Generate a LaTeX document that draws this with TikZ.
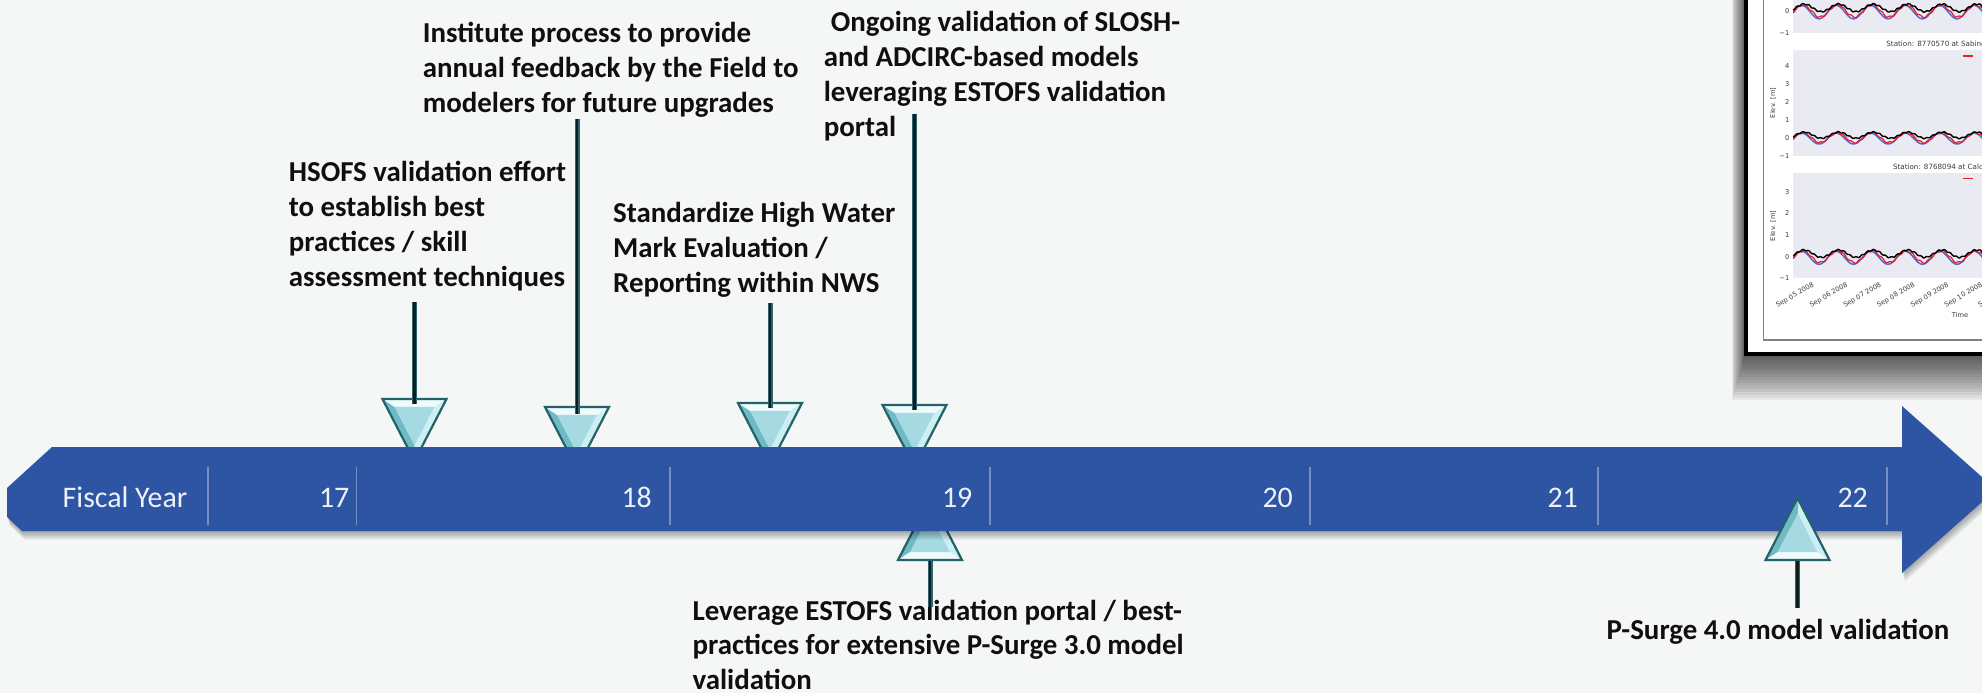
\documentclass[tikz,border=0pt]{standalone}
\usepackage{fontspec}
\setmainfont{Carlito}
\newfontfamily\plotfont{DejaVu Sans}
\usetikzlibrary{calc}
\definecolor{bgc}{RGB}{245,246,246}
\definecolor{bandc}{RGB}{46,84,164}
\definecolor{sepc}{RGB}{118,142,198}
\definecolor{yrc}{RGB}{238,241,248}
\definecolor{txtc}{RGB}{15,15,15}
\definecolor{stemc}{RGB}{12,30,34}
\definecolor{stemedge}{RGB}{45,100,110}
\definecolor{triedge}{RGB}{36,98,106}
\definecolor{triL}{RGB}{112,186,197}
\definecolor{triR}{RGB}{205,238,243}
\definecolor{triB}{RGB}{238,251,252}
\definecolor{triM}{RGB}{165,218,226}
\definecolor{panelc}{RGB}{234,234,242}
\definecolor{bluec}{RGB}{85,105,205}
\definecolor{redc}{RGB}{232,30,40}
\definecolor{tickc}{RGB}{60,60,60}

\newcommand\bevtri[3]{% x, base y, s: +1 tip up, -1 tip down
  \pgfmathsetmacro\bvTa{#2-#3*62}
  \pgfmathsetmacro\bvGy{#2-#3*20.67}
  \pgfmathsetmacro\bvIa{\bvGy-#3*0.62*41.33}
  \pgfmathsetmacro\bvIb{\bvGy+#3*0.62*20.67}
  \pgfmathsetmacro\bvXl{#1-32}
  \pgfmathsetmacro\bvXr{#1+32}
  \pgfmathsetmacro\bvXil{#1-0.62*32}
  \pgfmathsetmacro\bvXir{#1+0.62*32}
  \fill[triL] (#1,\bvTa) -- (\bvXl,#2) -- (\bvXil,\bvIb) -- (#1,\bvIa) -- cycle;
  \fill[triR] (#1,\bvTa) -- (\bvXr,#2) -- (\bvXir,\bvIb) -- (#1,\bvIa) -- cycle;
  \fill[triB] (\bvXl,#2) -- (\bvXr,#2) -- (\bvXir,\bvIb) -- (\bvXil,\bvIb) -- cycle;
  \fill[triM] (#1,\bvIa) -- (\bvXil,\bvIb) -- (\bvXir,\bvIb) -- cycle;
  \draw[triedge, line width=2.2bp, line join=miter] (#1,\bvTa) -- (\bvXl,#2) -- (\bvXr,#2) -- cycle;
}
\newcommand\bandshape[1]{\fill[#1] (52,447) -- (1902,447) -- (1902,406) -- (1996,489.5) -- (1902,573) -- (1902,531) -- (22,531) -- (7,517) -- (7,488) -- cycle;}
\newcommand\wavecurves[2]{%
  \draw[bluec, line width=1.5bp] plot[domain=1793:1990, samples=200] (\x,{#1-#2*(-0.05-0.3*cos(10.435*(\x-1819)))});
  \draw[redc, line width=1.2bp] plot[domain=1793:1990, samples=200] (\x,{#1-#2*(0.0-0.27*cos(10.435*(\x-1819)-12)+0.04*sin(47*(\x-1819)))});
  \draw[black, line width=1.4bp] plot[domain=1793:1990, samples=200] (\x,{#1-#2*(0.14-0.17*cos(10.435*(\x-1819)-25)+0.03*sin(61*(\x-1819)))});
}

\begin{document}
\begin{tikzpicture}[x=1bp,y=-1bp,
  lbl/.style={inner sep=0pt, anchor=base west, text=txtc, font=\fontsize{29}{35}\selectfont\bfseries},
  yr/.style={inner sep=0pt, anchor=base east, text=yrc, font=\fontsize{30}{36}\selectfont},
  yrsep/.style={draw=sepc, line width=1.1bp},
  stemo/.style={line width=5bp, draw=stemedge},
  stemi/.style={line width=2.6bp, draw=stemc},
  tk/.style={inner sep=0.5bp, text=tickc, font=\plotfont\fontsize{6.7}{7}\selectfont},
  ttl/.style={inner sep=0.5bp, text=tickc, font=\plotfont\fontsize{7.2}{8}\selectfont},
  ]
\useasboundingbox (0,0) rectangle (1982,693);
\clip (0,0) rectangle (1982,693);
\fill[bgc] (0,0) rectangle (1982,693);

% ---------- inset plot ----------
\foreach \i in {1,...,16} {\fill[black,opacity=0.055] ({1746-0.9*\i},-10) rectangle (2000,{354+2.9*\i});}
\draw[black, line width=4bp, fill=white] (1746,-10) rectangle (2000,353.5);
\draw[gray, line width=1.3bp] (1763.5,-10) rectangle (2000,340);
\fill[panelc] (1793,-10) rectangle (2000,33.3);
\fill[panelc] (1793,50) rectangle (2000,156);
\fill[panelc] (1793,173.3) rectangle (2000,278.3);
\begin{scope}
\clip (1793,-10) rectangle (2000,33.3);
\wavecurves{11}{22.3}
\end{scope}
\begin{scope}
\clip (1793,50) rectangle (2000,156);
\wavecurves{137.7}{18}
\end{scope}
\begin{scope}
\clip (1793,173.3) rectangle (2000,278.3);
\wavecurves{256.7}{21.6}
\end{scope}
\draw[redc, line width=1.2bp] (1962.7,56) -- (1972.7,56);
\draw[redc, line width=1.2bp] (1962.7,178.3) -- (1972.7,178.3);
\node[tk, anchor=east] (pa1) at (1790,11) {0};
\node[tk, anchor=east] (pa2) at (1790,33.3) {−1};
\foreach \lab/\yy [count=\k] in {4/65.7,3/84,2/102,1/120,0/137.7,−1/156}
  \node[tk, anchor=east] (pb\k) at (1790,\yy) {\lab};
\foreach \lab/\yy [count=\k] in {3/191.7,2/213.3,1/235,0/256.7,−1/278.3}
  \node[tk, anchor=east] (pc\k) at (1790,\yy) {\lab};
\node[ttl, anchor=west] (title2) at (1885.7,44.3) {Station: 8770570 at Sabine};
\node[ttl, anchor=west] (title3) at (1892.3,166.7) {Station: 8768094 at Calca};
\node[tk, rotate=90] (ylab2) at (1773,103) {Elev. [m]};
\node[tk, rotate=90] (ylab3) at (1773,226) {Elev. [m]};
\foreach \d [count=\k] in {05,06,07,08,09,10,11}
  \node[tk, rotate=30, anchor=north east] (xt\k) at ({1812+33.7*(\k-1)},281) {Sep \d\ 2008};
\node[tk] (xlab) at (1960,315) {Time};

% ---------- triangles behind the band ----------
\bevtri{414.5}{399}{-1}
\bevtri{577}{407}{-1}
\bevtri{770}{403}{-1}
\bevtri{914.5}{405}{-1}
\bevtri{930}{560}{1}

% ---------- band ----------
\foreach \i in {1,...,10} {\bandshape{black,opacity=0.035,shift={(0.3*\i,0.9*\i)}}}
\bandshape{bandc}

\foreach \xx [count=\k] in {208,356.5,670,990,1310,1598,1887}
  \draw[yrsep] (\xx,467) -- (\xx,525);
\node[yr, anchor=base west] (fy) at (62.5,507) {Fiscal Year};
\node[yr] (y17) at (349.5,507) {17};
\node[yr] (y18) at (652,507) {18};
\node[yr] (y19) at (972.5,507) {19};
\node[yr] (y20) at (1293,507) {20};
\node[yr] (y21) at (1578,507) {21};
\node[yr] (y22) at (1868,507) {22};

% ---------- triangle in front ----------
\bevtri{1797.5}{560}{1}

% ---------- labels ----------
\node[lbl] (t1) at (422.7,42.7) {\begin{tabular}[t]{@{}l@{}}Institute process to provide\\annual feedback by the Field to\\modelers for future upgrades\end{tabular}};
\node[lbl] (t2) at (823.6,31.7) {\begin{tabular}[t]{@{}l@{}}\hspace{7bp}Ongoing validation of SLOSH-\\and ADCIRC-based models\\leveraging ESTOFS validation\\portal\end{tabular}};
\node[lbl] (t3) at (288.7,181.7) {\begin{tabular}[t]{@{}l@{}}HSOFS validation effort\\to establish best\\practices / skill\\assessment techniques\end{tabular}};
\node[lbl] (t4) at (613,222.7) {\begin{tabular}[t]{@{}l@{}}Standardize High Water\\Mark Evaluation /\\Reporting within NWS\end{tabular}};
\node[lbl] (t5) at (692.4,620) {\begin{tabular}[t]{@{}l@{}}Leverage ESTOFS validation portal / best-\\practices for extensive P-Surge 3.0 model\\validation\end{tabular}};
\node[lbl] (t6) at (1606.5,639) {P-Surge 4.0 model validation};

% ---------- stems ----------
\coordinate (s1a) at (414.5,302); \coordinate (s1b) at (414.5,404);
\coordinate (s2a) at (577,119);   \coordinate (s2b) at (577,414);
\coordinate (s3a) at (770,303);   \coordinate (s3b) at (770,408);
\coordinate (s4a) at (914.5,114); \coordinate (s4b) at (914.5,410);
\coordinate (s5a) at (930,607);   \coordinate (s5b) at (930,561);
\coordinate (s6a) at (1797.5,608);\coordinate (s6b) at (1797.5,561);
\foreach \s in {1,...,6} {
  \draw[stemo] (s\s a) -- (s\s b);
  \draw[stemi] (s\s a) -- (s\s b);
}
\end{tikzpicture}
\end{document}
